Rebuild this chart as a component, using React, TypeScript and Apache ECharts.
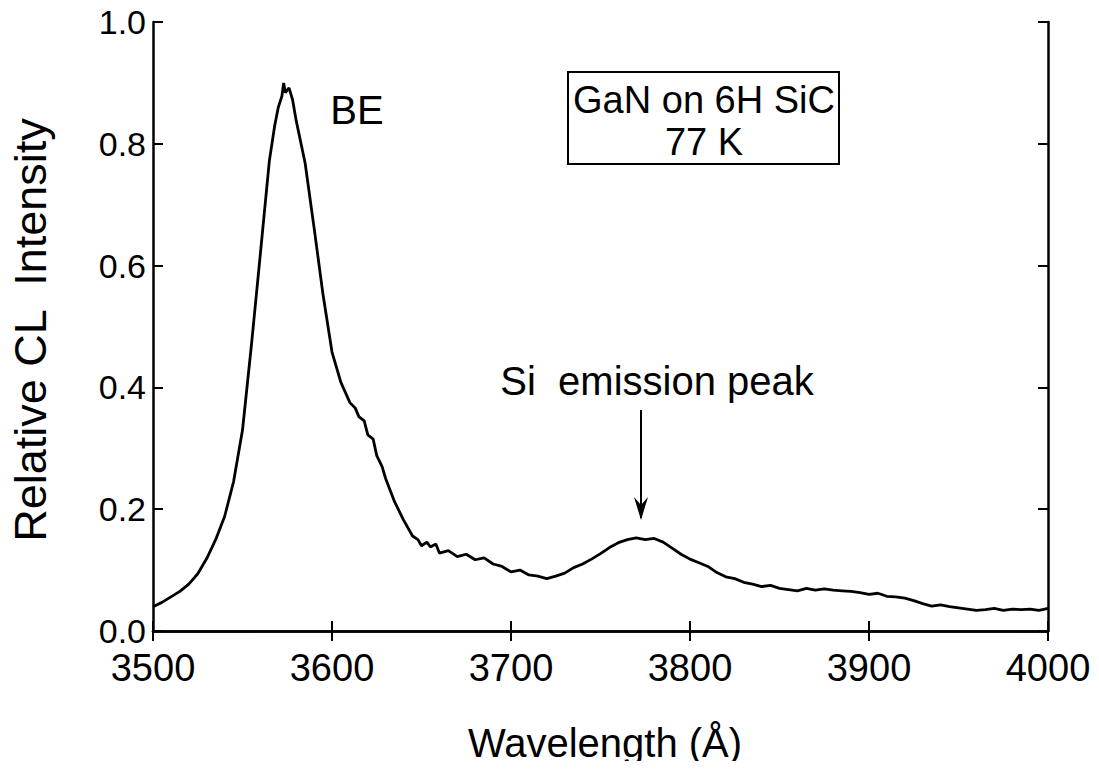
import React, { useEffect, useRef } from "react";
import * as echarts from "echarts";

const wavelengths: number[] = [
  3500, 3505, 3510, 3515, 3520, 3525, 3530, 3535, 3540, 3545,
  3550, 3555, 3560, 3565, 3568, 3570, 3572, 3573, 3574, 3576,
  3578, 3580, 3585, 3590, 3595, 3600, 3605, 3610, 3613, 3615,
  3618, 3620, 3623, 3625, 3628, 3630, 3635, 3640, 3645, 3648,
  3650, 3653, 3655, 3658, 3660, 3665, 3670, 3675, 3680, 3685,
  3690, 3695, 3700, 3705, 3710, 3715, 3720, 3725, 3730, 3735,
  3740, 3745, 3750, 3755, 3760, 3765, 3770, 3775, 3780, 3785,
  3790, 3795, 3800, 3805, 3810, 3815, 3820, 3825, 3830, 3835,
  3840, 3845, 3850, 3855, 3860, 3865, 3870, 3875, 3880, 3885,
  3890, 3895, 3900, 3905, 3910, 3915, 3920, 3925, 3930, 3935,
  3940, 3945, 3950, 3955, 3960, 3965, 3970, 3975, 3980, 3985,
  3990, 3995, 4000,
];

const intensity: number[] = [
  0.040, 0.047, 0.056, 0.065, 0.077, 0.094, 0.119, 0.150, 0.188, 0.245,
  0.330, 0.470, 0.620, 0.772, 0.830, 0.860, 0.878, 0.900, 0.884, 0.892,
  0.872, 0.838, 0.768, 0.662, 0.552, 0.458, 0.408, 0.375, 0.366, 0.352,
  0.345, 0.322, 0.315, 0.288, 0.270, 0.250, 0.212, 0.182, 0.156, 0.150,
  0.140, 0.146, 0.138, 0.143, 0.128, 0.132, 0.122, 0.126, 0.117, 0.120,
  0.110, 0.106, 0.097, 0.100, 0.092, 0.090, 0.086, 0.090, 0.095, 0.104,
  0.110, 0.118, 0.127, 0.137, 0.145, 0.150, 0.153, 0.150, 0.152, 0.146,
  0.136, 0.126, 0.118, 0.112, 0.106, 0.096, 0.089, 0.086, 0.080, 0.077,
  0.073, 0.075, 0.070, 0.068, 0.066, 0.070, 0.067, 0.069, 0.067, 0.066,
  0.065, 0.063, 0.060, 0.062, 0.057, 0.056, 0.054, 0.050, 0.045, 0.041,
  0.043, 0.040, 0.038, 0.036, 0.034, 0.035, 0.037, 0.034, 0.036, 0.035,
  0.036, 0.034, 0.037,
];

const xTicks: number[] = [3500, 3600, 3700, 3800, 3900, 4000];
const yTicks: number[] = [0, 0.2, 0.4, 0.6, 0.8, 1.0];

const xTitle = "Wavelength (Å)";
const yTitle = "Relative CL  Intensity";
const peakLabel = "BE";
const siLabel = "Si  emission peak";
const boxLines: string[] = ["GaN on 6H SiC", "77 K"];

const FONT = "'Liberation Sans', Arial, Helvetica, sans-serif";

export default function App() {
  const ref = useRef<HTMLDivElement>(null);

  useEffect(() => {
    if (!ref.current) return;
    const chart = echarts.init(ref.current, null, { renderer: "svg" });
    const data = wavelengths.map((w, i) => [w, intensity[i]]);
    const axisCommon = {
      type: "value" as const,
      axisLine: { show: true, lineStyle: { color: "#000", width: 2.5 } },
      axisTick: { show: true, inside: true, length: 10, lineStyle: { color: "#000", width: 2 } },
      splitLine: { show: false },
    };
    chart.setOption({
      animation: false,
      backgroundColor: "#fff",
      grid: { left: 153, right: 51, top: 22, bottom: 138, show: false },
      xAxis: [
        {
          ...axisCommon,
          position: "bottom",
          min: xTicks[0],
          max: xTicks[xTicks.length - 1],
          interval: 100,
          axisLabel: {
            show: true,
            color: "#000",
            fontSize: 38,
            fontFamily: FONT,
            margin: 18,
            formatter: (v: number) => String(v),
          },
        },
        {
          ...axisCommon,
          position: "top",
          min: xTicks[0],
          max: xTicks[xTicks.length - 1],
          interval: 100,
          axisLabel: { show: false },
        },
      ],
      yAxis: [
        {
          ...axisCommon,
          position: "left",
          min: yTicks[0],
          max: yTicks[yTicks.length - 1],
          interval: 0.2,
          axisLabel: {
            show: true,
            color: "#000",
            fontSize: 34,
            fontFamily: FONT,
            margin: 7,
            formatter: (v: number) => v.toFixed(1),
          },
        },
        {
          ...axisCommon,
          position: "right",
          min: yTicks[0],
          max: yTicks[yTicks.length - 1],
          interval: 0.2,
          axisLabel: { show: false },
        },
      ],
      series: [
        {
          type: "line",
          data,
          showSymbol: false,
          symbol: "none",
          lineStyle: { color: "#000", width: 2.8 },
          silent: true,
        },
      ],
      graphic: [
        {
          type: "text",
          x: 605,
          y: 743,
          style: {
            text: xTitle,
            fill: "#000",
            font: `40px ${FONT}`,
            textAlign: "center",
            textVerticalAlign: "middle",
          },
        },
        {
          type: "text",
          x: 30,
          y: 330,
          rotation: Math.PI / 2,
          style: {
            text: yTitle,
            fill: "#000",
            font: `45px ${FONT}`,
            textAlign: "center",
            textVerticalAlign: "middle",
          },
        },
        {
          type: "text",
          x: 357,
          y: 110,
          style: {
            text: peakLabel,
            fill: "#000",
            font: `40px ${FONT}`,
            textAlign: "center",
            textVerticalAlign: "middle",
          },
        },
        {
          type: "rect",
          shape: { x: 568, y: 72, width: 271, height: 92 },
          style: { fill: "none", stroke: "#000", lineWidth: 2 },
        },
        {
          type: "text",
          x: 704,
          y: 100,
          style: {
            text: boxLines[0],
            fill: "#000",
            font: `38px ${FONT}`,
            textAlign: "center",
            textVerticalAlign: "middle",
          },
        },
        {
          type: "text",
          x: 704,
          y: 142,
          style: {
            text: boxLines[1],
            fill: "#000",
            font: `38px ${FONT}`,
            textAlign: "center",
            textVerticalAlign: "middle",
          },
        },
        {
          type: "text",
          x: 657,
          y: 381,
          style: {
            text: siLabel,
            fill: "#000",
            font: `40px ${FONT}`,
            textAlign: "center",
            textVerticalAlign: "middle",
          },
        },
        {
          type: "line",
          shape: { x1: 641, y1: 410, x2: 641, y2: 518 },
          style: { stroke: "#000", lineWidth: 2 },
        },
        {
          type: "polygon",
          shape: { points: [[634, 497], [641, 520], [648, 497], [641, 505]] },
          style: { fill: "#000" },
        },
      ],
    });
    return () => chart.dispose();
  }, []);

  return <div ref={ref} style={{ width: 1099, height: 769, margin: -8 }} />;
}
